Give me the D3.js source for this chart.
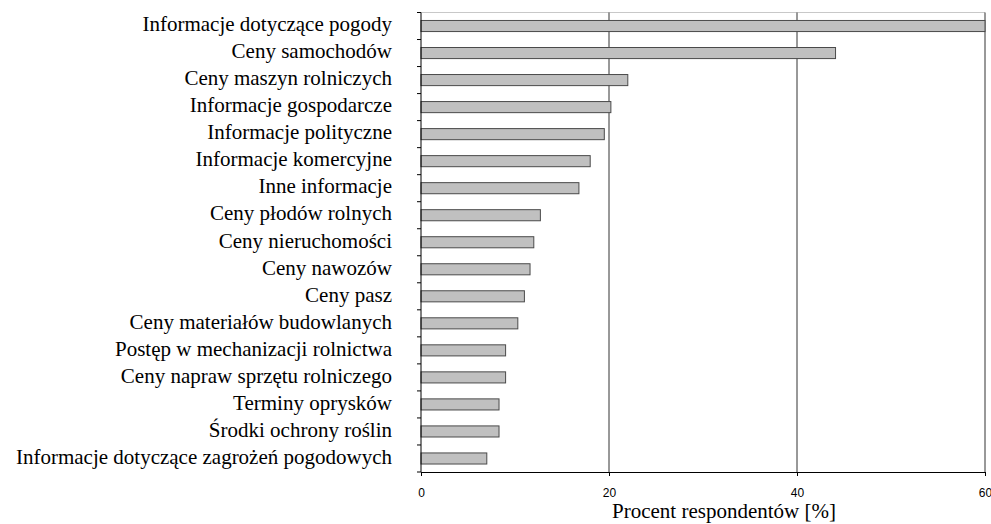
<!DOCTYPE html>
<html>
<head>
<meta charset="utf-8">
<script src="https://cdn.jsdelivr.net/npm/d3@7"></script>
<style>
  html, body { margin: 0; padding: 0; background: #fff; }
  svg { display: block; }
</style>
</head>
<body>
<svg id="chart" width="991" height="524"></svg>
<script>
const categories = [
  "Informacje dotyczące pogody",
  "Ceny samochodów",
  "Ceny maszyn rolniczych",
  "Informacje gospodarcze",
  "Informacje polityczne",
  "Informacje komercyjne",
  "Inne informacje",
  "Ceny płodów rolnych",
  "Ceny nieruchomości",
  "Ceny nawozów",
  "Ceny pasz",
  "Ceny materiałów budowlanych",
  "Postęp w mechanizacji rolnictwa",
  "Ceny napraw sprzętu rolniczego",
  "Terminy oprysków",
  "Środki ochrony roślin",
  "Informacje dotyczące zagrożeń pogodowych"
];
const values = [60, 44.1, 22.0, 20.2, 19.5, 18.0, 16.8, 12.7, 12.0, 11.6, 11.0, 10.3, 9.0, 9.0, 8.3, 8.3, 7.0];
const xTicks = [0, 20, 40, 60];
const xTitle = "Procent respondentów [%]";

(function () {
const svg = d3.select("#chart");
const pLeft = 421, pRight = 985, pTop = 12.5, pBottom = 472;

const x = d3.scaleLinear().domain([0, 60]).range([pLeft, pRight]);
const y = d3.scaleBand().domain(categories).range([pTop, pBottom]).paddingInner(0.59).paddingOuter(0.295);
const yb = d3.scaleBand().domain(categories).range([pTop, pBottom]).padding(0);

// top border
svg.append("line")
  .attr("x1", pLeft).attr("x2", pRight).attr("y1", pTop).attr("y2", pTop)
  .attr("stroke", "#c8c8c8").attr("stroke-width", 1);

// gridlines
svg.append("g").selectAll("line").data(xTicks.filter(d => d > 0)).join("line")
  .attr("x1", d => x(d)).attr("x2", d => x(d))
  .attr("y1", pTop).attr("y2", pBottom)
  .attr("stroke", "#333").attr("stroke-width", 1);

// bars
svg.append("g").selectAll("rect").data(categories).join("rect")
  .attr("x", x(0))
  .attr("y", (d) => y(d))
  .attr("width", (d, i) => x(values[i]) - x(0))
  .attr("height", y.bandwidth())
  .attr("fill", "#c0c0c0")
  .attr("stroke", "#4a4a4a")
  .attr("stroke-width", 1);

// x axis
const xAxis = d3.axisBottom(x).tickValues(xTicks).tickSizeInner(4).tickSizeOuter(0).tickPadding(12.5);
const gx = svg.append("g").attr("transform", `translate(0,${pBottom})`).call(xAxis);
gx.select(".domain").attr("stroke", "#000");
gx.selectAll(".tick line").attr("stroke", "#000");
gx.selectAll("text").attr("font-family", "'Liberation Sans', Arial, sans-serif").attr("font-size", 12).attr("fill", "#000");

// y axis: line + ticks at band boundaries
svg.append("line").attr("x1", pLeft).attr("x2", pLeft).attr("y1", pTop).attr("y2", pBottom).attr("stroke", "#000");
const boundaries = categories.map(c => yb(c)).concat([pBottom]);
svg.append("g").selectAll("line").data(boundaries).join("line")
  .attr("x1", pLeft - 4).attr("x2", pLeft)
  .attr("y1", d => d).attr("y2", d => d)
  .attr("stroke", "#000");

// y labels
const yAxis = d3.axisLeft(yb).tickSize(0).tickPadding(29);
const gy = svg.append("g").attr("transform", `translate(${pLeft},0)`).call(yAxis);
gy.select(".domain").remove();
gy.selectAll("text")
  .attr("font-family", "'Liberation Serif', 'Times New Roman', serif")
  .attr("font-size", 21).attr("fill", "#000").attr("dy", "0.25em");

// x title
svg.append("text")
  .attr("x", 724).attr("y", 518)
  .attr("text-anchor", "middle")
  .attr("font-family", "'Liberation Serif', 'Times New Roman', serif")
  .attr("font-size", 21)
  .text(xTitle);
})();
</script>
</body>
</html>
